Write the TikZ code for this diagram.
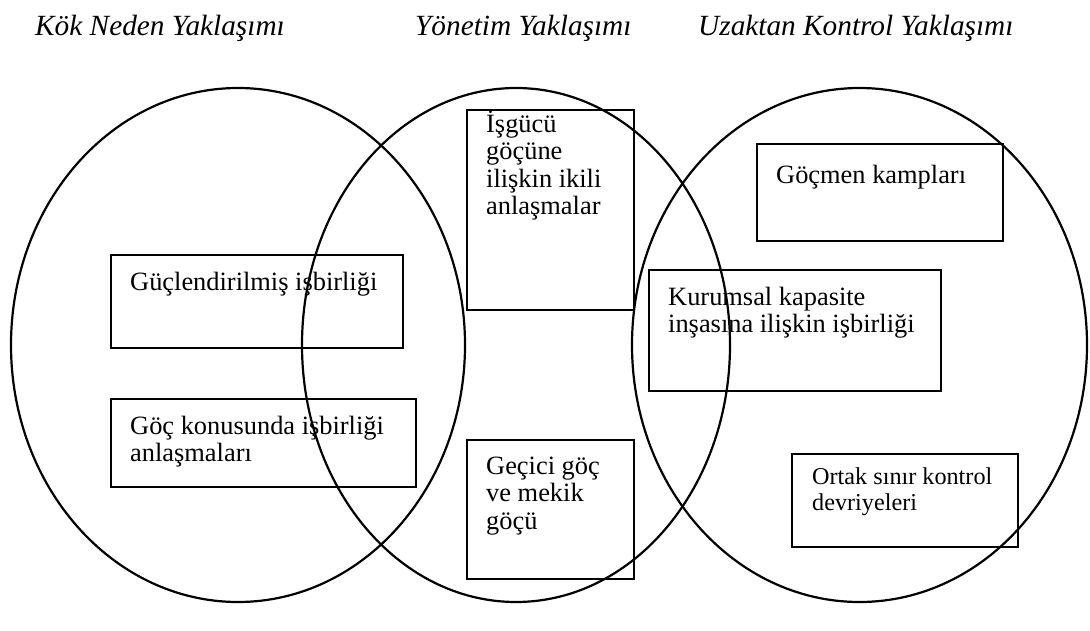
\documentclass[tikz,border=0pt]{standalone}
\usepackage{fontspec}
\setmainfont{Liberation Serif}
% stacked lines whose baseline is the first line's baseline
\newcommand\linestack[1]{\begin{tabular}[t]{@{}l@{}}#1\end{tabular}}
\begin{document}
\begin{tikzpicture}[x=1pt,y=-1pt,
  ring/.style={line width=2.2pt},
  box/.style={draw,line width=1.9pt,inner sep=0pt,anchor=north west},
  txt/.style={inner sep=0pt,anchor=base west,
    font=\fontsize{26.4}{27.6}\selectfont},
  smalltxt/.style={txt,font=\fontsize{24.2}{26}\selectfont},
  head/.style={inner sep=0pt,anchor=base west,
    font=\fontsize{29.3}{30}\selectfont\itshape}]
\useasboundingbox (0,0) rectangle (1090,630);

% headings
\node[head] (h1) at (35,35) {Kök Neden Yaklaşımı};
\node[head] (h2) at (415,35) {Yönetim Yaklaşımı};
\node[head] (h3) at (698,35) {Uzaktan Kontrol Yaklaşımı};

% the three overlapping sets
\draw[ring] (238,345) ellipse [x radius=227, y radius=257];
\draw[ring] (516,345) ellipse [x radius=214, y radius=257];
\draw[ring] (859.5,345) ellipse [x radius=227.5, y radius=257];

% boxes
\node[box,minimum width=292,minimum height=93] (b1) at (110,254) {};
\node[box,minimum width=305,minimum height=88] (b2) at (110,398) {};
\node[box,minimum width=167,minimum height=200] (b3) at (466,109) {};
\node[box,minimum width=167,minimum height=139] (b4) at (466,439) {};
\node[box,minimum width=246,minimum height=97] (b5) at (756,143) {};
\node[box,minimum width=292,minimum height=121] (b6) at (648,269) {};
\node[box,minimum width=226,minimum height=93] (b7) at (791,453) {};

% box texts
\node[txt] (t1) at (130,290) {Güçlendirilmiş işbirliği};
\node[txt] (t2) at (130,434) {\linestack{Göç konusunda işbirliği\\anlaşmaları}};
\node[txt] (t3) at (486,132) {\linestack{İşgücü\\göçüne\\ilişkin ikili\\anlaşmalar}};
\node[txt] (t4) at (486,474) {\linestack{Geçici göç\\ve mekik\\göçü}};
\node[txt] (t5) at (776,183) {Göçmen kampları};
\node[txt] (t6) at (668,305) {\linestack{Kurumsal kapasite\\inşasına ilişkin işbirliği}};
\node[smalltxt] (t7) at (812,484) {\linestack{Ortak sınır kontrol\\devriyeleri}};
\end{tikzpicture}
\end{document}
